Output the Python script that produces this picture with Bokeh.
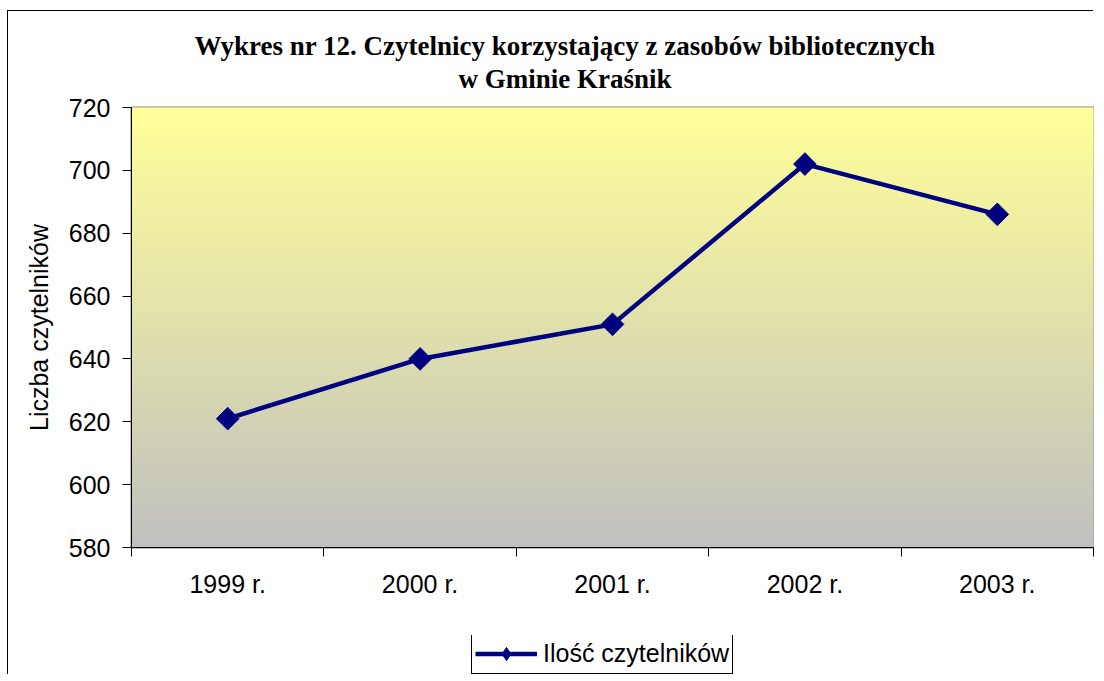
import numpy as np
from bokeh.plotting import figure
from bokeh.layouts import column
from bokeh.models import FixedTicker, Title, Legend, LegendItem, ColumnDataSource, Range1d
from bokeh.embed import file_html
from bokeh.resources import INLINE

categories = ["1999 r.", "2000 r.", "2001 r.", "2002 r.", "2003 r."]
readers = [621, 640, 651, 702, 686]
y_ticks = [580, 600, 620, 640, 660, 680, 700, 720]
title_line1 = "Wykres nr 12. Czytelnicy korzystający z zasobów bibliotecznych"
title_line2 = "w Gminie Kraśnik"
y_label = "Liczba czytelników"
series_name = "Ilość czytelników"

FONT = "Liberation Sans"
SERIF = "Liberation Serif"
FS = "25px"
NAVY = "#000080"

n = len(categories)
xs = [i + 0.5 for i in range(n)]

p = figure(width=1086, height=624, output_backend="svg", toolbar_location=None,
           x_range=(0, n), y_range=(y_ticks[0], y_ticks[-1]),
           min_border_left=123, min_border_right=1, min_border_top=96, min_border_bottom=88)

p.background_fill_color = "white"
p.border_fill_color = "white"
p.outline_line_color = "#808080"
p.outline_line_width = 2

# gradient background of plot area (yellow top -> grey bottom)
N = 140
edges = np.linspace(y_ticks[0], y_ticks[-1], N + 1)
top_c = np.array([255, 255, 153])
bot_c = np.array([192, 192, 192])
cols = []
for i in range(N):
    t = (i + 0.5) / N
    c = bot_c + (top_c - bot_c) * t
    cols.append("#%02x%02x%02x" % tuple(int(round(v)) for v in c))
p.quad(left=0, right=n, bottom=edges[:-1], top=edges[1:], fill_color=cols, line_color=cols, line_width=1)

# grid
p.xgrid.grid_line_color = None
p.ygrid.grid_line_color = "#202020"
p.ygrid.grid_line_width = 1
p.ygrid.level = "underlay"

# axes
p.yaxis.ticker = FixedTicker(ticks=y_ticks)
p.yaxis.major_tick_out = 9
p.yaxis.major_tick_in = 0
p.yaxis.minor_tick_out = 0
p.yaxis.minor_tick_in = 0
p.yaxis.major_label_standoff = 12
p.yaxis.axis_label = y_label
p.yaxis.axis_label_text_font = FONT
p.yaxis.axis_label_text_font_size = FS
p.yaxis.axis_label_text_font_style = "normal"
p.yaxis.axis_label_text_color = "black"
p.yaxis.axis_label_standoff = 13
p.yaxis.major_label_text_font = FONT
p.yaxis.major_label_text_font_size = FS
p.yaxis.major_label_text_color = "black"
p.yaxis.axis_line_color = "black"
p.yaxis.major_tick_line_color = "black"

p.xaxis.ticker = FixedTicker(ticks=xs, minor_ticks=list(range(n + 1)))
p.xaxis.major_label_overrides = {x: c for x, c in zip(xs, categories)}
p.xaxis.major_tick_out = 0
p.xaxis.major_tick_in = 0
p.xaxis.minor_tick_out = 9
p.xaxis.minor_tick_in = 0
p.xaxis.minor_tick_line_color = "black"
p.xaxis.major_label_standoff = 13
p.xaxis.major_label_text_font = FONT
p.xaxis.major_label_text_font_size = FS
p.xaxis.major_label_text_color = "black"
p.xaxis.axis_line_color = "black"

# data
src = ColumnDataSource(dict(x=xs, y=readers))
p.line("x", "y", source=src, line_color=NAVY, line_width=4.5)
p.scatter("x", "y", source=src, marker="square", angle=np.pi / 4, size=16,
          fill_color=NAVY, line_color=NAVY)

# title (two lines, second added first so it sits closer to the plot)
t2 = Title(text=title_line2, align="left", offset=327, text_font=SERIF,
           text_font_size="27px", text_font_style="bold", text_color="black", standoff=28)
t1 = Title(text=title_line1, align="left", offset=63, text_font=SERIF,
           text_font_size="27px", text_font_style="bold", text_color="black", standoff=-26)
p.add_layout(t2, "above")
p.add_layout(t1, "above")

# legend strip (separate figure so the legend is not clipped by the plot frame)
q = figure(width=1086, height=40, output_backend="svg", toolbar_location=None,
           x_axis_location=None, y_axis_location=None,
           x_range=Range1d(0, n), y_range=Range1d(0, 1),
           min_border_left=0, min_border_right=0, min_border_top=0, min_border_bottom=0)
q.outline_line_color = None
q.background_fill_color = "white"
q.border_fill_color = "white"
q.grid.grid_line_color = None
lsrc = ColumnDataSource(dict(x=xs, y=readers))  # same series; outside this strip's range
lln = q.line("x", "y", source=lsrc, line_color=NAVY, line_width=4.5)
lmk = q.scatter("x", "y", source=lsrc, marker="diamond", size=16,
                fill_color=NAVY, line_color=NAVY)
legend = Legend(items=[LegendItem(label=series_name, renderers=[lln, lmk])],
                location=(340, 1), orientation="horizontal",
                border_line_color="black", border_line_width=1, border_line_alpha=1,
                background_fill_color="white", background_fill_alpha=1,
                label_text_font=FONT, label_text_font_size=FS, label_text_color="black",
                glyph_width=62, glyph_height=33, label_standoff=6,
                padding=3, margin=0, spacing=0)
q.add_layout(legend, "center")

layout = column(p, q, spacing=0,
                styles={"position": "relative", "left": "8px", "top": "11px",
                        "box-shadow": "-1px -1px 0px 0px black"})

open("out.html", "w").write(file_html(layout, INLINE))
